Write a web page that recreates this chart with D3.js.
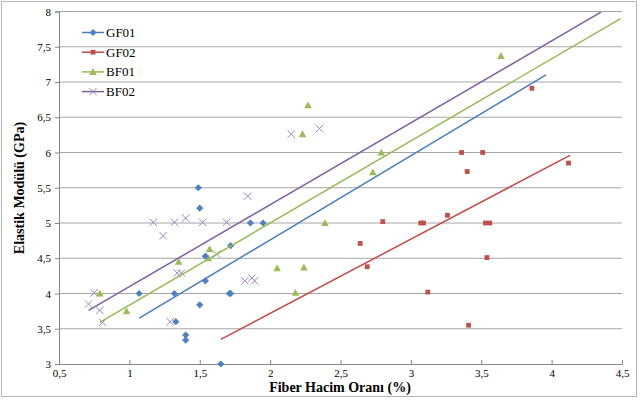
<!DOCTYPE html>
<html><head><meta charset="utf-8">
<script src="https://cdn.jsdelivr.net/npm/d3@7"></script>
<style>body{margin:0;background:#fff}svg{display:block}text{font-family:"Liberation Serif","Tinos","DejaVu Serif",serif}</style>
</head><body><svg id="c" width="640" height="400"></svg>
<script>
const seriesNames = ["GF01","GF02","BF01","BF02"];
const gf01X = [1.49,1.50,1.86,1.95,1.72,1.54,1.54,1.07,1.32,1.71,1.72,1.50,1.33,1.40,1.40,1.65];
const gf01Y = [5.50,5.21,5.00,5.00,4.68,4.53,4.18,4.00,4.00,4.00,4.00,3.84,3.60,3.41,3.34,3.00];
const gf02X = [3.36,3.51,3.40,4.12,3.86,2.80,3.07,3.09,3.26,3.53,3.56,2.64,2.69,3.54,3.12,3.41];
const gf02Y = [6.00,6.00,5.73,5.85,6.91,5.02,5.00,5.00,5.11,5.00,5.00,4.71,4.38,4.51,4.02,3.55];
const bf01X = [0.79,0.98,1.35,1.57,1.56,2.05,2.27,2.23,2.79,2.73,2.39,2.24,2.18,3.64];
const bf01Y = [4.00,3.75,4.45,4.63,4.50,4.36,6.67,6.26,6.00,5.72,5.00,4.37,4.01,7.37];
const bf02X = [0.75,0.71,0.79,0.81,1.17,1.32,1.40,1.52,1.69,1.24,1.84,1.34,1.37,1.62,1.29,1.82,1.87,1.89,2.15,2.35];
const bf02Y = [4.01,3.85,3.76,3.59,5.01,5.01,5.07,5.01,5.01,4.82,5.38,4.29,4.29,4.56,3.60,4.18,4.22,4.18,6.26,6.34];
// linear trendline endpoints [x0,x1],[y0,y1]
const trendX = [[1.07,3.96],[1.65,4.13],[0.79,4.49],[0.71,4.35]];
const trendY = [[3.65,7.10],[3.35,5.96],[3.59,7.90],[3.76,7.99]];
const xTicks = [0.5,1,1.5,2,2.5,3,3.5,4,4.5];
const yTicks = [3,3.5,4,4.5,5,5.5,6,6.5,7,7.5,8];

const FONT = '"Liberation Serif", Tinos, "DejaVu Serif", serif';
const markerColors = ["#4f81bd","#c0504d","#9bbb59","#8064a2"];
const lineColors = ["#4a7ebb","#be4b48","#98b954","#7d60a0"];

const svg = d3.select("#c");
svg.append("rect").attr("x",1.5).attr("y",1.5).attr("width",635).attr("height",395)
  .attr("fill","#fff").attr("stroke","#b4b4b4");

const x = d3.scaleLinear().domain([0.5,4.5]).range([59,622]);
const y = d3.scaleLinear().domain([3,8]).range([364,11.5]);
const fmt = d => String(d).replace(".", ",");

// gridlines
svg.append("g").selectAll("line").data(yTicks.filter(d=>d>3)).join("line")
  .attr("x1",x(0.5)).attr("x2",x(4.5)).attr("y1",d=>y(d)).attr("y2",d=>y(d))
  .attr("stroke","#a6a6a6").attr("stroke-width",1);

// axes
const yAxis = d3.axisLeft(y).tickValues(yTicks).tickFormat(fmt).tickSize(4).tickPadding(4);
const gy = svg.append("g").attr("transform",`translate(${x(0.5)},0)`).call(yAxis);
const xAxis = d3.axisBottom(x).tickValues(xTicks).tickFormat(fmt).tickSize(-4).tickPadding(5);
const gx = svg.append("g").attr("transform",`translate(0,${y(3)})`).call(xAxis);
[gx,gy].forEach(g=>{
  g.attr("font-family",FONT).attr("font-size",11);
  g.select(".domain").attr("stroke","#868686");
  g.selectAll(".tick line").attr("stroke","#868686");
  g.selectAll(".tick text").attr("fill","#000").attr("font-family",FONT).attr("font-size",11);
});
gx.selectAll(".tick text").attr("dy","0.75em");

const allX = [gf01X,gf02X,bf01X,bf02X];
const allY = [gf01Y,gf02Y,bf01Y,bf02Y];

// markers
function drawMarker(g, i, px, py){
  let d;
  if (i===0){ const s=3.6; d=`M${px},${py-s}L${px+s},${py}L${px},${py+s}L${px-s},${py}Z`; }
  else if (i===1){ const s=2.4; d=`M${px-s},${py-s}h${2*s}v${2*s}h${-2*s}Z`; }
  else if (i===2){ const s=3.8; d=`M${px},${py-s}L${px+s},${py+s*0.8}L${px-s},${py+s*0.8}Z`; }
  if (i===3){
    const s=3.7;
    g.append("path").attr("d",`M${px-s},${py-s}L${px+s},${py+s}M${px-s},${py+s}L${px+s},${py-s}`)
      .attr("stroke","#9a88b8").attr("stroke-width",1).attr("fill","none");
  } else {
    g.append("path").attr("d",d).attr("fill",markerColors[i]);
  }
}
const mg = svg.append("g");
[3,2,0,1].forEach(i=>{
  allX[i].forEach((vx,k)=>drawMarker(mg,i,x(vx),y(allY[i][k])));
});

// trendlines
const line = d3.line().x(d=>x(d[0])).y(d=>y(d[1]));
trendX.forEach((tx,i)=>{
  svg.append("path").attr("d",line(tx.map((v,k)=>[v,trendY[i][k]])))
    .attr("stroke",lineColors[i]).attr("stroke-width",1.5).attr("fill","none");
});

// legend
const leg = svg.append("g");
seriesNames.forEach((n,i)=>{
  const ly = 32.5 + i*19.7;
  leg.append("line").attr("x1",82).attr("x2",104).attr("y1",ly).attr("y2",ly)
    .attr("stroke",lineColors[i]).attr("stroke-width",1.5);
  drawMarker(leg,i,93,ly);
  leg.append("text").attr("x",106).attr("y",ly).attr("dy","0.35em")
    .attr("font-family",FONT).attr("font-size",13).text(n);
});

// titles
svg.append("text").attr("x",340).attr("y",392).attr("text-anchor","middle")
  .attr("font-family",FONT).attr("font-size",14).attr("font-weight","bold").text("Fiber Hacim Oranı (%)");
svg.append("text").attr("transform",`translate(24,188) rotate(-90)`).attr("text-anchor","middle")
  .attr("font-family",FONT).attr("font-size",14).attr("font-weight","bold").text("Elastik Modülü (GPa)");
</script></body></html>
